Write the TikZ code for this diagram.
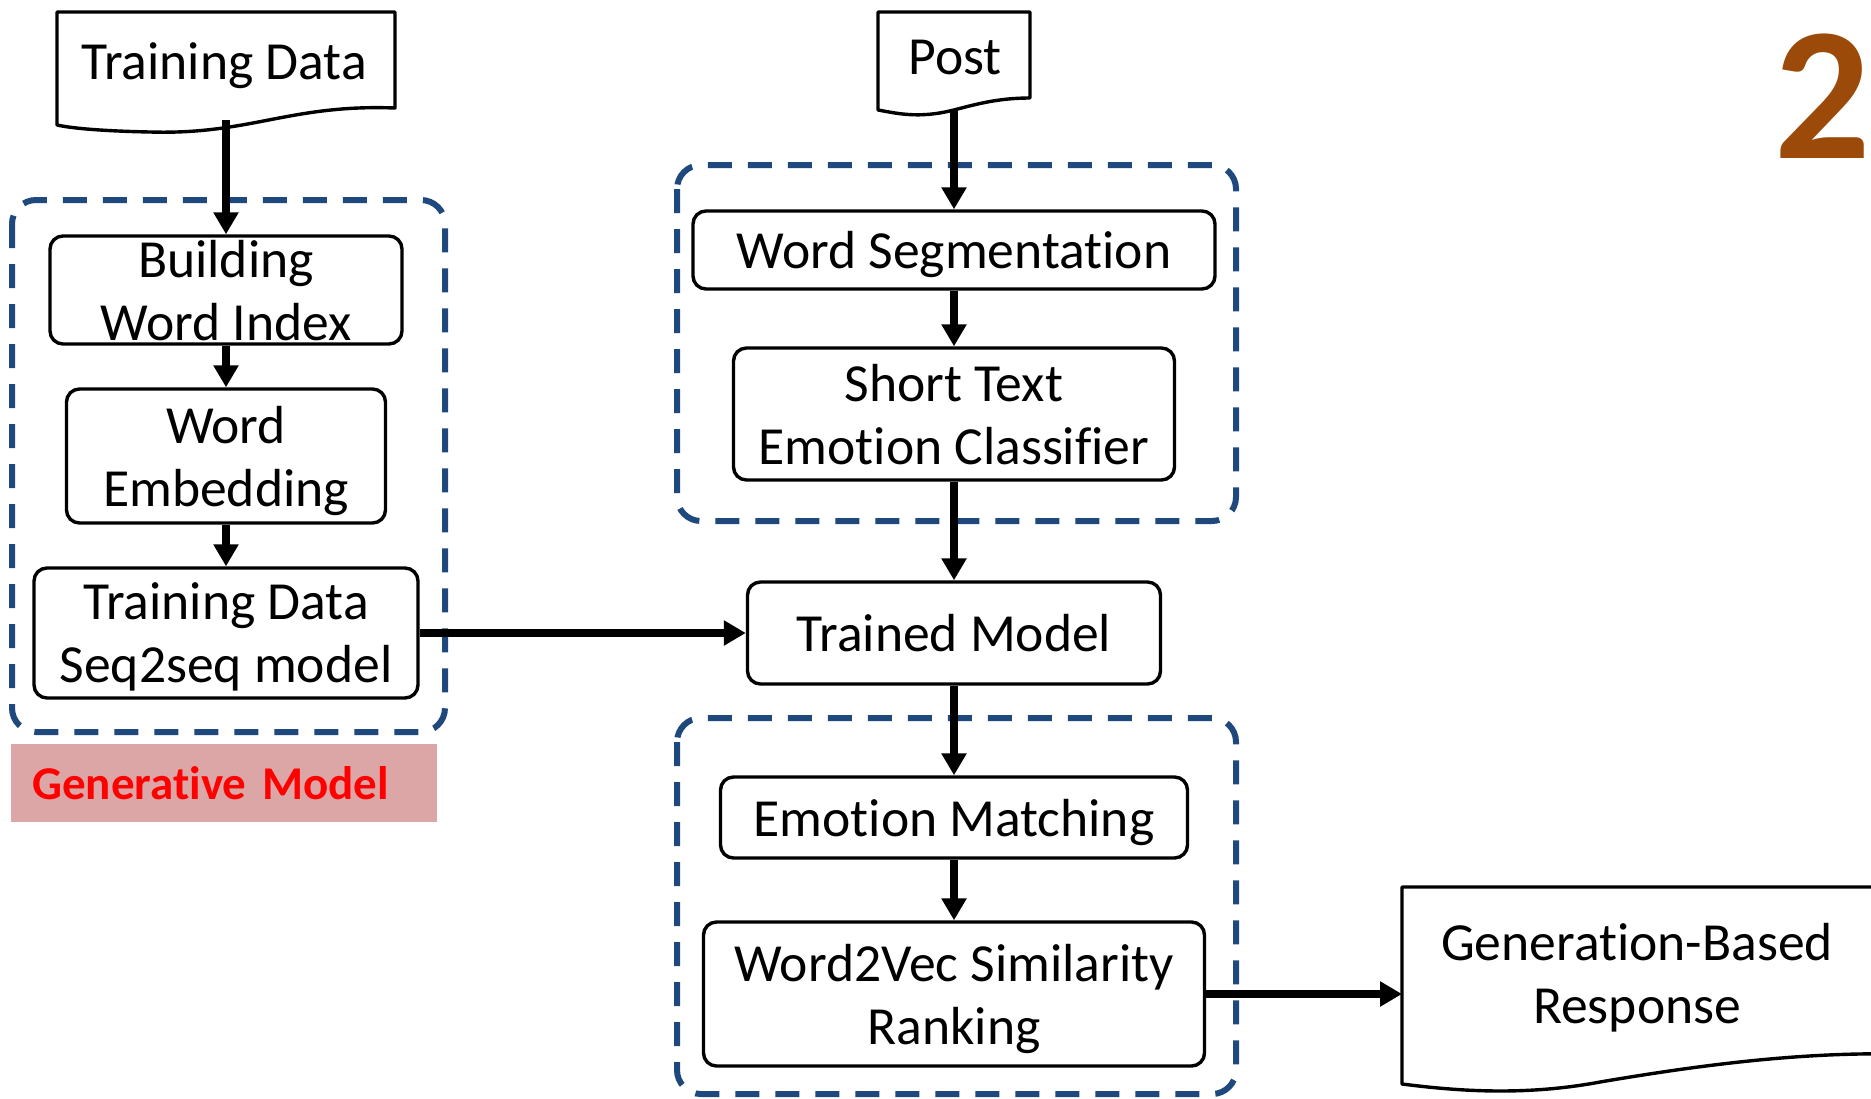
\documentclass[tikz,border=0pt]{standalone}
\usepackage{fontspec}
\setmainfont{Carlito}[RawFeature={-liga;-clig;-dlig;-calt}]
\usetikzlibrary{arrows.meta}
\definecolor{dashblue}{RGB}{31,73,125}
\definecolor{labelfill}{RGB}{221,166,166}
\definecolor{numbrown}{RGB}{156,74,10}
\begin{document}
\begin{tikzpicture}[x=0.5pt,y=-0.5pt,
  box/.style={draw, line width=1.7pt, rounded corners=6.5pt, align=center,
    font=\fontsize{26.8}{31.5}\selectfont, inner sep=0pt, fill=white, text depth=0pt},
  txt/.style={align=center, font=\fontsize{26.8}{31.5}\selectfont, inner sep=0pt},
  flow/.style={line width=3.6pt, -{Triangle[length=11pt,width=12pt]}},
  group/.style={draw=dashblue, line width=3pt, dash pattern=on 12pt off 8pt, rounded corners=12pt},
  docshape/.style={draw, line width=1.7pt, fill=white, line join=round}]
\useasboundingbox (0,0) rectangle (1871,1098);

% dashed groups
\draw[group] (12,200) rectangle (445,732);
\draw[group] (677,165) rectangle (1236,521);
\draw[group] (677,718) rectangle (1236,1094);

% document shapes
\draw[docshape] (57,12) -- (395,12) -- (395,108)
  .. controls (290,104) and (250,135) .. (150,132)
  .. controls (100,131) and (70,128) .. (57,125) -- cycle;
\node[txt] (tdoc) at (224,66) {Training Data};
\coordinate (tdocb) at (226,120);

\draw[docshape] (878,12) -- (1030,12) -- (1030,98)
  .. controls (990,98) and (965,108) .. (945,112)
  .. controls (915,118) and (895,113) .. (878,110) -- cycle;
\node[txt] (post) at (955,57) {Post};
\coordinate (postb) at (954,111);

\draw[docshape] (1402,887) -- (1900,887) -- (1900,1054)
  .. controls (1800,1052) and (1700,1065) .. (1600,1082)
  .. controls (1520,1097) and (1450,1090) .. (1402,1084) -- cycle;
\node[txt] (gen) at (1637,978) {Generation-Based\\Response};
\coordinate (genl) at (1402,994);

% left column
\node[box, minimum width=176pt, minimum height=54pt] (bwi) at (226,290) {Building\\Word Index};
\node[box, minimum width=159.5pt, minimum height=67pt] (we) at (226,456) {Word\\Embedding};
\node[box, minimum width=192pt, minimum height=65pt] (ts) at (226,633) {Training Data\\Seq2seq model};

% right column
\node[box, minimum width=261pt, minimum height=39pt] (ws) at (954,250) {Word Segmentation};
\node[box, minimum width=220.5pt, minimum height=66pt] (stec) at (954,414) {Short Text\\Emotion Classifier};
\node[box, minimum width=206.5pt, minimum height=51pt] (tm) at (954,633) {Trained Model};
\node[box, minimum width=233.5pt, minimum height=40.5pt] (em) at (954,817.5) {Emotion Matching};
\node[box, minimum width=250.5pt, minimum height=72pt] (w2v) at (954,994) {Word2Vec Similarity\\Ranking};

% label and number
\node[fill=labelfill, text=red, font=\bfseries\fontsize{23.5}{28}\selectfont,
  text width=192pt, align=left, inner xsep=10.5pt, inner ysep=0pt,
  minimum height=39pt, anchor=west] (genlabel) at (11,783) {Generative Model};
\node[text=numbrown, font=\bfseries\fontsize{95}{95}\selectfont, inner sep=0pt] (num) at (1823,96) {2};

% connectors
\draw[flow] (tdocb) -- (bwi.north);
\draw[flow] (bwi.south) -- (we.north);
\draw[flow] (we.south) -- (ts.north);
\draw[flow] (ts.east) -- (tm.west);
\draw[flow] (postb) -- (ws.north);
\draw[flow] (ws.south) -- (stec.north);
\draw[flow] (stec.south) -- (tm.north);
\draw[flow] (tm.south) -- (em.north);
\draw[flow] (em.south) -- (w2v.north);
\draw[flow] (w2v.east) -- (genl);
\end{tikzpicture}
\end{document}
